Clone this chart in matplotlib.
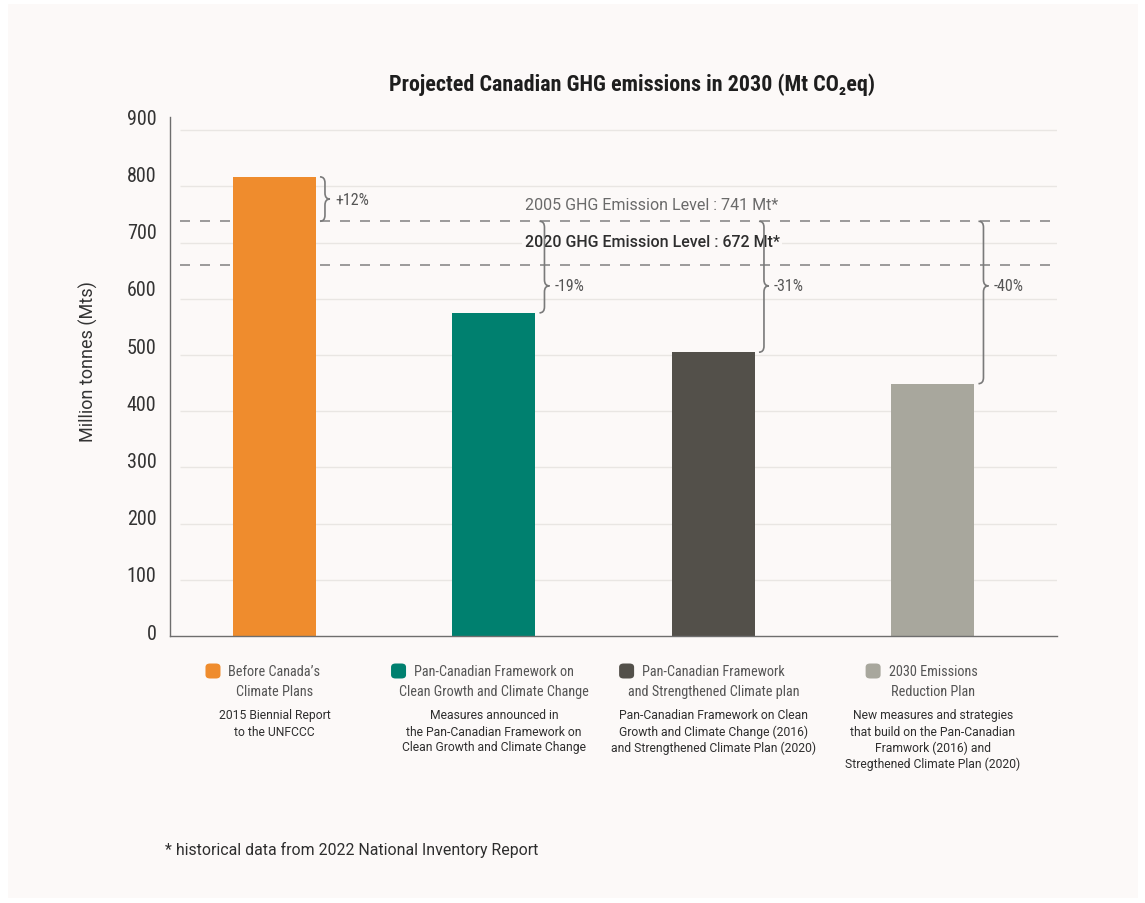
import matplotlib
matplotlib.use("Agg")
import matplotlib.pyplot as plt
from matplotlib.path import Path
from matplotlib.patches import PathPatch, FancyBboxPatch, Rectangle
from matplotlib.transforms import ScaledTranslation

# ---------------- data ----------------
categories = ["Before Canada’s\nClimate Plans",
              "Pan-Canadian Framework on\nClean Growth and Climate Change",
              "Pan-Canadian Framework\nand Strengthened Climate plan",
              "2030 Emissions\nReduction Plan"]
descriptions = ["2015 Biennial Report\nto the UNFCCC",
                "Measures announced in\nthe Pan-Canadian Framework on\nClean Growth and Climate Change",
                "Pan-Canadian Framework on Clean\nGrowth and Climate Change (2016)\nand Strengthened Climate Plan (2020)",
                "New measures and strategies\nthat build on the Pan-Canadian\nFramwork (2016) and\nStregthened Climate Plan (2020)"]
emissions_2030 = [817, 575, 505, 449]
change_labels = ["+12%", "-19%", "-31%", "-40%"]
bar_colors = ["#EF8C2D", "#00806F", "#53504A", "#A8A79D"]
level_2005 = 738   # line position as drawn in the picture (labelled 741 Mt)
level_2020 = 661   # line position as drawn in the picture (labelled 672 Mt)
level_2005_label = "2005 GHG Emission Level : 741 Mt*"
level_2020_label = "2020 GHG Emission Level : 672 Mt*"
y_ticks = [0, 100, 200, 300, 400, 500, 600, 700, 800, 900]

W, H = 1145, 904
BG = "#FCF9F8"
COND = ["Roboto Condensed", "DejaVu Sans"]
REG = ["Roboto", "DejaVu Sans"]

fig = plt.figure(figsize=(W / 100, H / 100), dpi=100, facecolor="white")
fig.patches.append(Rectangle((8 / W, 1 - 899 / H), (1138 - 8) / W, (899 - 5) / H,
                             transform=fig.transFigure, facecolor=BG, edgecolor="none", zorder=-10))

ax_l, ax_r, ax_t, ax_b = 170, 1057, 118, 637
ax = fig.add_axes([ax_l / W, 1 - ax_b / H, (ax_r - ax_l) / W, (ax_b - ax_t) / H])
ax.set_facecolor("none")
xmin, xmax = -0.476, 3.565
ymin, ymax = 0, 923.5
ax.set_xlim(xmin, xmax)
ax.set_ylim(ymin, ymax)
px_x = (ax_r - ax_l) / (xmax - xmin)   # pixels per data x
px_y = (ax_b - ax_t) / (ymax - ymin)   # pixels per data y

x = list(range(len(categories)))
bar_w = 0.378

# gridlines
grid_x0 = xmin + 10 / px_x
ax.hlines(y_ticks[1:], grid_x0, xmax, color="#E9E6E3", lw=1.0, zorder=0)

# bars
ax.bar(x, emissions_2030, width=bar_w, color=bar_colors, zorder=2)

# reference lines
ax.hlines([level_2005, level_2020], grid_x0, xmax, color="#8A8A8A", lw=1.2,
          linestyles=(0, (6, 6)), zorder=1)
ax.text(1.72, level_2005 + 17 / px_y, level_2005_label, ha="center", va="center",
        fontsize=11.5, color="#6A6A6A", family=REG, zorder=3)
ax.text(1.72, level_2020 + 23 / px_y, level_2020_label, ha="center", va="center",
        fontsize=11.5, color="#2E2E2E", family=REG, fontweight="medium", zorder=3,
        bbox=dict(facecolor=BG, edgecolor="none", pad=2))


def brace(xl, ya, yb, ytip, color="#7A7A7A"):
    top, bot = max(ya, yb), min(ya, yb)
    w1 = 5 / px_x
    w2 = 5 / px_x
    r = 6 / px_y
    x0, x1, xm = xl, xl + w1, xl + w1 + w2
    verts = [(x0, top), (x1, top), (x1, top - r), (x1, ytip + r),
             (x1, ytip), (xm, ytip),
             (x1, ytip), (x1, ytip - r), (x1, bot + r),
             (x1, bot), (x0, bot)]
    codes = [Path.MOVETO, Path.CURVE3, Path.CURVE3, Path.LINETO,
             Path.CURVE3, Path.CURVE3,
             Path.CURVE3, Path.CURVE3, Path.LINETO,
             Path.CURVE3, Path.CURVE3]
    ax.add_patch(PathPatch(Path(verts, codes), facecolor="none", edgecolor=color, lw=1.2, zorder=3))
    return xm


label_y = 623
for i, (v, lab) in enumerate(zip(emissions_2030, change_labels)):
    xl = i + bar_w / 2 + 4 / px_x
    tip = (v + level_2005) / 2 if v > level_2005 else label_y
    xm = brace(xl, v, level_2005, tip)
    ax.text(xm + 5 / px_x, tip, lab, ha="left", va="center", fontsize=11.5,
            color="#555555", family=COND, zorder=3)

# axes styling
for s in ["top", "right"]:
    ax.spines[s].set_visible(False)
ax.spines["left"].set_color("#6E6E6E")
ax.spines["bottom"].set_color("#6E6E6E")
ax.spines["left"].set_linewidth(1.0)
ax.spines["bottom"].set_linewidth(1.0)
ax.set_xticks([])
ax.set_yticks(y_ticks)
ax.set_yticklabels([str(t) for t in y_ticks])
ax.tick_params(axis="y", length=0, pad=14, labelsize=14.5, labelcolor="#333333")
for t, lbl in zip(y_ticks, ax.get_yticklabels()):
    lbl.set_family(COND)
    off = (5 + t / 100.0) / 100.0
    lbl.set_transform(lbl.get_transform() + ScaledTranslation(0.06, off, fig.dpi_scale_trans))

fig.text(88 / W, 1 - 362 / H, "Million tonnes (Mts)", rotation=90, ha="center", va="center",
         fontsize=13, color="#333333", family=REG)

# title
fig.text(632 / W, 1 - 85 / H, "Projected Canadian GHG emissions in 2030 (Mt CO₂eq)",
         ha="center", va="center", fontsize=15.8, fontweight="bold", color="#1E1E1E", family=COND)

# category legend below
renderer = fig.canvas.get_renderer()
for i, (cat, desc, col) in enumerate(zip(categories, descriptions, bar_colors)):
    cx_px = ax_l + (i - xmin) * px_x
    lines = cat.split("\n")
    first = None
    for j, ln in enumerate(lines):
        t = fig.text(cx_px / W, 1 - (672 + 20 * j) / H, ln, ha="center", va="center",
                     fontsize=10.3, color="#555555", family=COND)
        if j == 0:
            first = t
    for j, ln in enumerate(desc.split("\n")):
        fig.text(cx_px / W, 1 - (716 + 16 * j) / H, ln, ha="center", va="center",
                 fontsize=8.7, color="#2E2E2E", family=REG)
    bb = first.get_window_extent(renderer=renderer)
    mx1 = bb.x0 - 8
    size = 15
    fig.patches.append(FancyBboxPatch(((mx1 - size) / W, (H - 672 - size / 2) / H),
                                      size / W, size / H,
                                      boxstyle="round,pad=0,rounding_size=0.004",
                                      transform=fig.transFigure, facecolor=col,
                                      edgecolor="none"))

fig.text(165 / W, 1 - 850 / H, "* historical data from 2022 National Inventory Report",
         ha="left", va="center", fontsize=11.4, color="#2E2E2E", family=REG)

fig.savefig("out.png", dpi=100, facecolor=fig.get_facecolor())
